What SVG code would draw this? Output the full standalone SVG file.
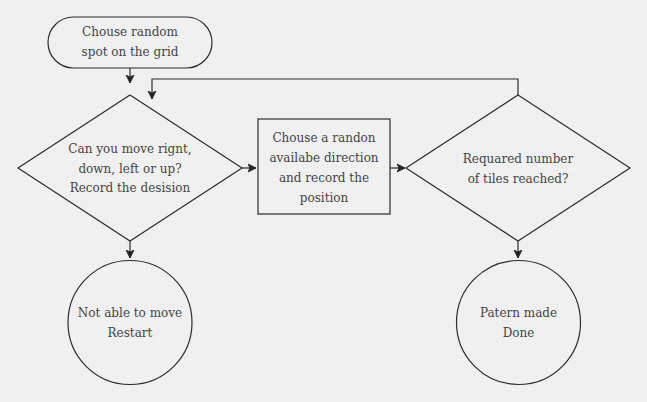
<svg xmlns="http://www.w3.org/2000/svg" width="647" height="402" viewBox="0 0 647 402">
<defs>
<pattern id="grid" width="10" height="10" patternUnits="userSpaceOnUse">
<rect width="10" height="10" fill="#efefef"/>
<path d="M10 0V10H0" fill="none" stroke="#f6f6f6" stroke-width="1"/>
</pattern>
<marker id="ah" markerWidth="10" markerHeight="10" refX="8" refY="5" orient="auto" markerUnits="userSpaceOnUse">
<path d="M0,1 L8,5 L0,9 L2,5 Z" fill="#222" stroke="#222" stroke-width="0.8"/>
</marker>
<style>
.s{fill:none;stroke:#2b2b2b;stroke-width:1.2}
.t{font-family:"DejaVu Serif","Liberation Serif",serif;font-size:12px;fill:#444;text-anchor:middle}
.c{fill:none;stroke:#2b2b2b;stroke-width:1.2;marker-end:url(#ah)}
</style>
</defs>
<rect width="647" height="402" fill="url(#grid)"/>
<g id="start">
<rect class="s" x="48" y="17" width="164" height="51" rx="25.5"/>
<text class="t" x="130" y="36">Chouse random</text>
<text class="t" x="130" y="56">spot on the grid</text>
</g>
<g id="decision-move">
<polygon class="s" points="130,95 242,168 130,241 18,168"/>
<text class="t" x="130" y="153">Can you move rignt,</text>
<text class="t" x="130" y="173">down, left or up?</text>
<text class="t" x="130" y="192">Record the desision</text>
</g>
<g id="restart">
<circle class="s" cx="130" cy="322.5" r="62"/>
<text class="t" x="130" y="317">Not able to move</text>
<text class="t" x="130" y="337">Restart</text>
</g>
<g id="choose-direction">
<rect class="s" x="258" y="119" width="132" height="95"/>
<text class="t" x="324" y="142">Chouse a randon</text>
<text class="t" x="324" y="162">availabe direction</text>
<text class="t" x="324" y="182">and record the</text>
<text class="t" x="324" y="202">position</text>
</g>
<g id="decision-tiles">
<polygon class="s" points="518,95 630,168 518,241 406,168"/>
<text class="t" x="518" y="163">Requared number</text>
<text class="t" x="518" y="183">of tiles reached?</text>
</g>
<g id="done">
<circle class="s" cx="518.5" cy="322.5" r="62"/>
<text class="t" x="518.5" y="317">Patern made</text>
<text class="t" x="518.5" y="337">Done</text>
</g>
<g id="connectors">
<path class="c" d="M130,68 V83"/>
<path class="c" d="M130,241 V258"/>
<path class="c" d="M242,168 H256"/>
<path class="c" d="M390,168 H405"/>
<path class="c" d="M518,241 V258"/>
<path class="c" d="M518,95 V79 H152 V99"/>
</g>
</svg>
